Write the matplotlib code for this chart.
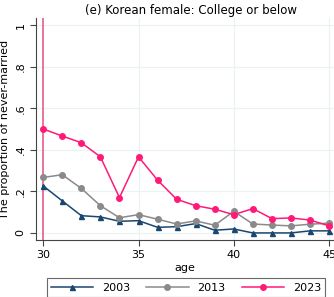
import matplotlib
matplotlib.use("Agg")
import matplotlib.pyplot as plt
from matplotlib.lines import Line2D

# ages on the x axis
ages = list(range(30, 46))

# proportion never-married
y2003 = [0.226, 0.154, 0.083, 0.077, 0.056, 0.059, 0.027, 0.030,
         0.045, 0.013, 0.019, 0.000, 0.000, 0.000, 0.010, 0.010]
y2013 = [0.267, 0.280, 0.214, 0.131, 0.073, 0.088, 0.066, 0.043,
         0.058, 0.037, 0.104, 0.043, 0.038, 0.034, 0.042, 0.047]
y2023 = [0.500, 0.466, 0.434, 0.366, 0.170, 0.366, 0.254, 0.162,
         0.131, 0.114, 0.088, 0.117, 0.069, 0.072, 0.062, 0.034]

years = ["2003", "2013", "2023"]
yticks = [0, 0.2, 0.4, 0.6, 0.8, 1]
ytick_labels = ["0", ".2", ".4", ".6", ".8", "1"]
xticks = [30, 35, 40, 45]

c2003 = "#1a476f"
c2013 = "#8a8a8a"
c2023 = "#ff1a78"

fig = plt.figure(figsize=(3.34, 2.97), dpi=100)
ax = fig.add_axes([36 / 334, 1 - 240 / 297, (334 - 36) / 334, (240 - 18) / 297])

# grid
for t in yticks:
    ax.axhline(t, color="#eaf2f3", lw=0.9, zorder=0)
for t in xticks[1:]:
    ax.axvline(t, color="#eaf2f3", lw=0.9, zorder=0)

ax.axvline(30, color="#e4507c", lw=1.1, zorder=1)

ax.plot(ages, y2003, color=c2003, marker="^", ms=3.6, lw=1.1, zorder=3)
ax.plot(ages, y2013, color=c2013, marker="o", ms=4, lw=1.1, zorder=3)
ax.plot(ages, y2023, color=c2023, marker="o", ms=4, lw=1.1, zorder=4)

ax.set_xlim(29.62, 45.26)
ax.set_ylim(-0.034, 1.034)
ax.set_xticks(xticks)
ax.set_yticks(yticks)
ax.set_yticklabels(ytick_labels, rotation=90, va="center")
ax.tick_params(labelsize=8, length=4, width=0.8, color="#444444")

for s in ["top", "right"]:
    ax.spines[s].set_visible(False)
for s in ["left", "bottom"]:
    ax.spines[s].set_color("#444444")
    ax.spines[s].set_linewidth(0.8)

ax.set_xlabel("age", fontsize=8, labelpad=2)
ax.set_ylabel("The proportion of never-married", fontsize=8, labelpad=4)
ax.set_title("(e) Korean female: College or below", fontsize=8.5, pad=3, x=0.52)

handles = [
    Line2D([], [], color=c2003, marker="^", ms=3.6, lw=1.1),
    Line2D([], [], color=c2013, marker="o", ms=4, lw=1.1),
    Line2D([], [], color=c2023, marker="o", ms=4, lw=1.1),
]
leg = fig.legend(handles, years, loc="lower left", ncol=3,
                 bbox_to_anchor=(41 / 334, -0.02, (331 - 41) / 334, 0.1),
                 mode="expand", fontsize=8, frameon=True, fancybox=False,
                 handlelength=3.8, columnspacing=2.5, borderpad=0.4)
leg.get_frame().set_edgecolor("#444444")
leg.get_frame().set_linewidth(0.8)

fig.savefig("out.png", dpi=100)
